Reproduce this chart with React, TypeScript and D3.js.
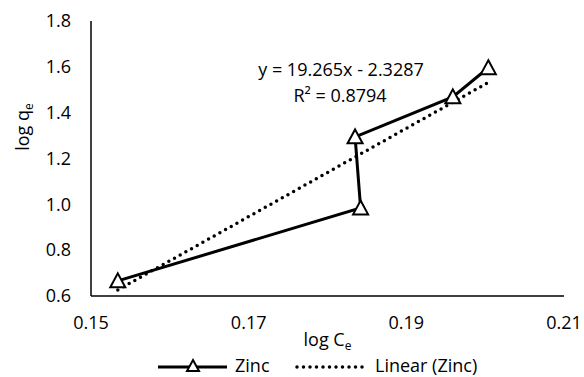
import React from "react";
import * as d3 from "d3";

// Zinc isotherm points (log Ce, log qe)
const logCe = [0.1534, 0.1842, 0.1835, 0.1959, 0.2004];
const logQe = [0.666, 0.984, 1.294, 1.469, 1.596];

// trendline as printed on the chart
const slope = 19.265;
const intercept = -2.3287;
const equationText = "y = 19.265x - 2.3287";
const r2Text = "R² = 0.8794";

const xTicks = [0.15, 0.17, 0.19, 0.21];
const yTicks = [0.6, 0.8, 1.0, 1.2, 1.4, 1.6, 1.8];

const W = 584;
const H = 377;
const font = "'Open Sans', 'Liberation Sans', sans-serif";
const fs = 18;

const triangle = (cx: number, cy: number, s = 7.5) =>
  `M${cx},${cy - s} L${cx + s},${cy + s * 0.85} L${cx - s},${cy + s * 0.85} Z`;

const App = () => {
  const x = d3.scaleLinear().domain([0.15, 0.21]).range([91, 564]);
  const y = d3.scaleLinear().domain([0.6, 1.8]).range([296, 21]);

  const pts = logCe.map((c, i) => [c, logQe[i]] as [number, number]);
  const line = d3.line<[number, number]>().x(d => x(d[0])).y(d => y(d[1]));

  const xMin = d3.min(logCe) as number;
  const xMax = d3.max(logCe) as number;
  const trend: [number, number][] = [
    [xMin, slope * xMin + intercept],
    [xMax, slope * xMax + intercept],
  ];

  return (
    <svg width={W} height={H} style={{ position: "absolute", left: 0, top: 0, background: "#fff" }}
      fontFamily={font}>
      {/* axes */}
      <line x1={x(0.15)} x2={x(0.15)} y1={y(1.8)} y2={y(0.6)} stroke="#000" strokeWidth={1.5} />
      <line x1={x(0.15)} x2={x(0.21)} y1={y(0.6)} y2={y(0.6)} stroke="#000" strokeWidth={1.5} />

      {yTicks.map(t => (
        <text key={t} x={71} y={y(t)} dy="0.35em" textAnchor="end" fontSize={fs} fill="#000">
          {t.toFixed(1)}
        </text>
      ))}
      {xTicks.map(t => (
        <text key={t} x={x(t)} y={323} dy="0.35em" textAnchor="middle" fontSize={fs} fill="#000">
          {t.toFixed(2)}
        </text>
      ))}

      {/* axis titles */}
      <text x={x(0.18)} y={346} textAnchor="middle" fontSize={fs} fill="#000">
        log C<tspan fontSize={12} dy={4}>e</tspan>
      </text>
      <text transform="translate(29,127) rotate(-90)" textAnchor="middle" fontSize={fs} fill="#000">
        log q<tspan fontSize={12} dy={4}>e</tspan>
      </text>

      {/* trendline */}
      <path d={line(trend) || ""} fill="none" stroke="#000" strokeWidth={3.5}
        strokeDasharray="0 6.5" strokeLinecap="round" />

      {/* series */}
      <path d={line(pts) || ""} fill="none" stroke="#000" strokeWidth={3} />
      {pts.map((p, i) => (
        <path key={i} d={triangle(x(p[0]), y(p[1]))} fill="#fff" stroke="#000" strokeWidth={2} />
      ))}

      {/* equation label */}
      <text x={341} y={76} textAnchor="middle" fontSize={fs} fill="#000">{equationText}</text>
      <text x={340} y={102} textAnchor="middle" fontSize={fs} fill="#000">{r2Text}</text>

      {/* legend */}
      <line x1={158} x2={227} y1={367} y2={367} stroke="#000" strokeWidth={3} />
      <path d={triangle(193, 366, 6)} fill="#fff" stroke="#000" strokeWidth={2} />
      <text x={235} y={366} dy="0.35em" fontSize={fs} fill="#000">Zinc</text>
      <line x1={297} x2={367} y1={367} y2={367} stroke="#000" strokeWidth={3.5}
        strokeDasharray="0 6.5" strokeLinecap="round" />
      <text x={375} y={366} dy="0.35em" fontSize={fs} fill="#000">Linear (Zinc)</text>
    </svg>
  );
};

export default App;
